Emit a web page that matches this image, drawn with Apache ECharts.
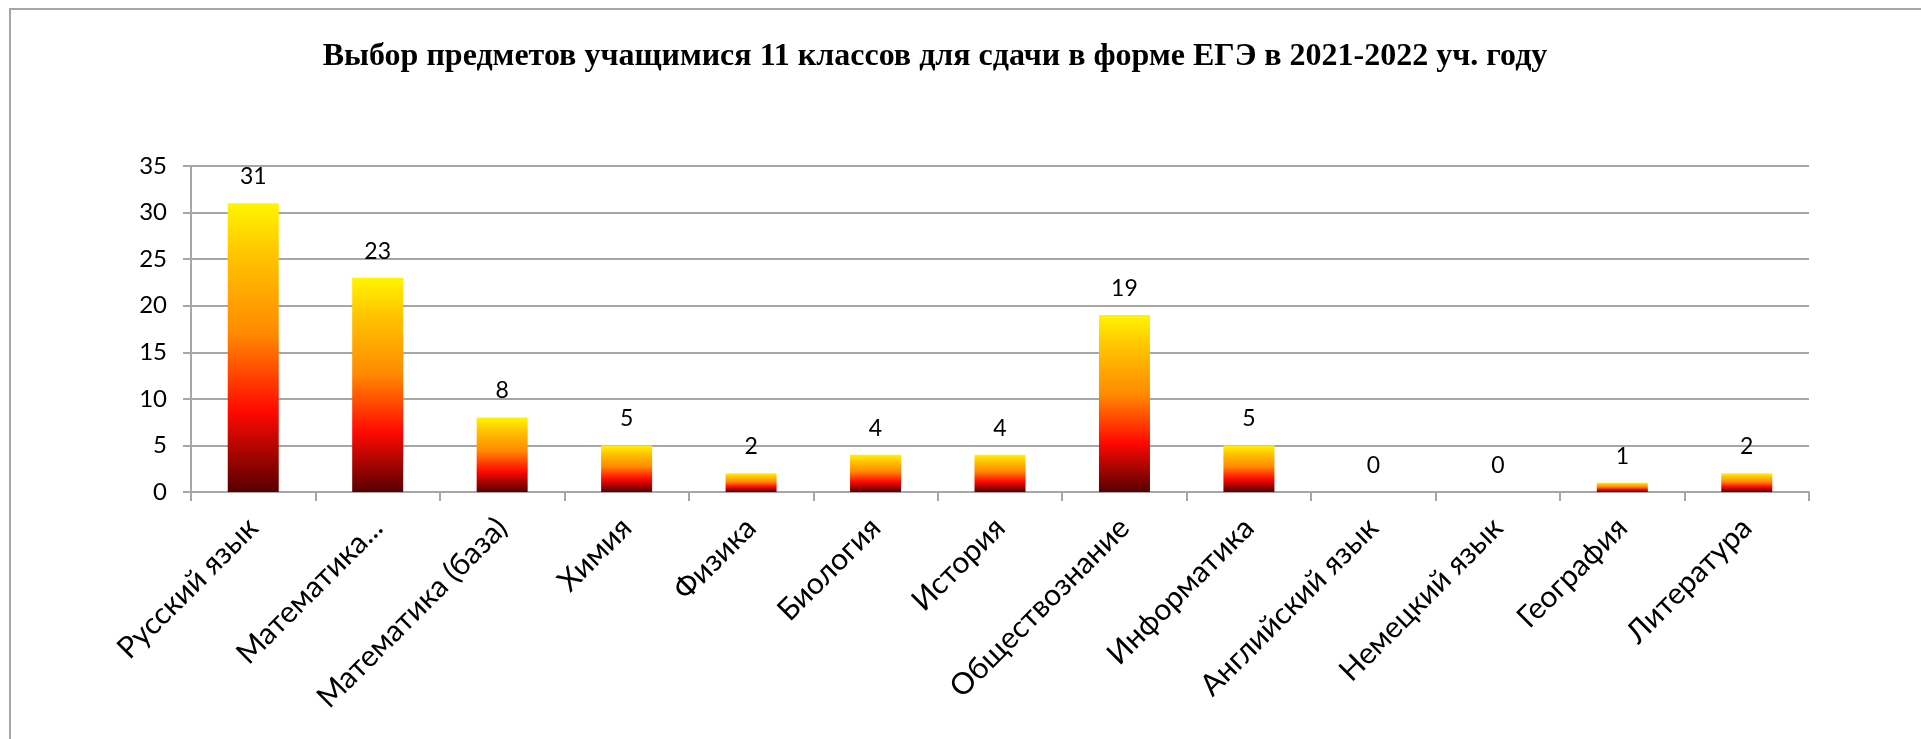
<!DOCTYPE html>
<html>
<head>
<meta charset="utf-8">
<script src="https://cdn.jsdelivr.net/npm/echarts@6/dist/echarts.min.js"></script>
<style>
  html, body { margin: 0; padding: 0; background: #fff; overflow: hidden; }
  #frame {
    position: absolute; left: 9px; top: 8px; width: 2000px; height: 800px;
    border-left: 2px solid #a6a6a6; border-top: 2px solid #a6a6a6;
  }
  #chart { position: absolute; left: 0; top: 0; width: 1921px; height: 739px; }
</style>
</head>
<body>
<div id="frame"></div>
<div id="chart"></div>
<script>
// данные диаграммы
const subjects = ['Русский язык', 'Математика...', 'Математика (база)', 'Химия', 'Физика',
  'Биология', 'История', 'Обществознание', 'Информатика', 'Английский язык',
  'Немецкий язык', 'География', 'Литература'];
const students = [31, 23, 8, 5, 2, 4, 4, 19, 5, 0, 0, 1, 2];
const yTicks = [0, 5, 10, 15, 20, 25, 30, 35];

const chart = echarts.init(document.getElementById('chart'));

const barGradient = new echarts.graphic.LinearGradient(0, 1, 0, 0, [
  { offset: 0, color: '#560000' },
  { offset: 0.28, color: '#ff0a00' },
  { offset: 0.55, color: '#ff8a00' },
  { offset: 0.82, color: '#ffc400' },
  { offset: 1, color: '#fff500' }
]);

chart.setOption({
  animation: false,
  title: {
    text: 'Выбор предметов учащимися 11 классов для сдачи в форме ЕГЭ в 2021-2022 уч. году',
    left: 930, top: 36, textAlign: 'center',
    textStyle: { fontFamily: 'Liberation Serif', fontWeight: 'bold', fontSize: 32, color: '#000' }
  },
  grid: { left: 191, right: 112, top: 166, bottom: 247 },
  xAxis: {
    type: 'category',
    data: subjects,
    axisLine: { lineStyle: { color: '#a6a6a6', width: 2 } },
    axisTick: { show: true, length: 9, lineStyle: { color: '#a6a6a6', width: 2 } },
    axisLabel: {
      interval: 0, rotate: 45, margin: 31,
      fontFamily: 'Lato', fontSize: 30, color: '#000'
    }
  },
  yAxis: {
    type: 'value',
    min: 0, max: yTicks[yTicks.length - 1], interval: 5,
    axisLine: { show: true, lineStyle: { color: '#a6a6a6', width: 2 } },
    axisTick: { show: true, length: 8, lineStyle: { color: '#a6a6a6', width: 2 } },
    splitLine: { lineStyle: { color: '#a6a6a6', width: 2 } },
    axisLabel: { margin: 24, fontFamily: 'Lato', fontSize: 24, color: '#000' }
  },
  series: [{
    type: 'bar',
    data: students,
    barWidth: 51,
    itemStyle: { color: barGradient },
    label: {
      show: true, position: 'top', distance: 15,
      fontFamily: 'Lato', fontSize: 23, color: '#000'
    }
  }]
});
</script>
</body>
</html>
